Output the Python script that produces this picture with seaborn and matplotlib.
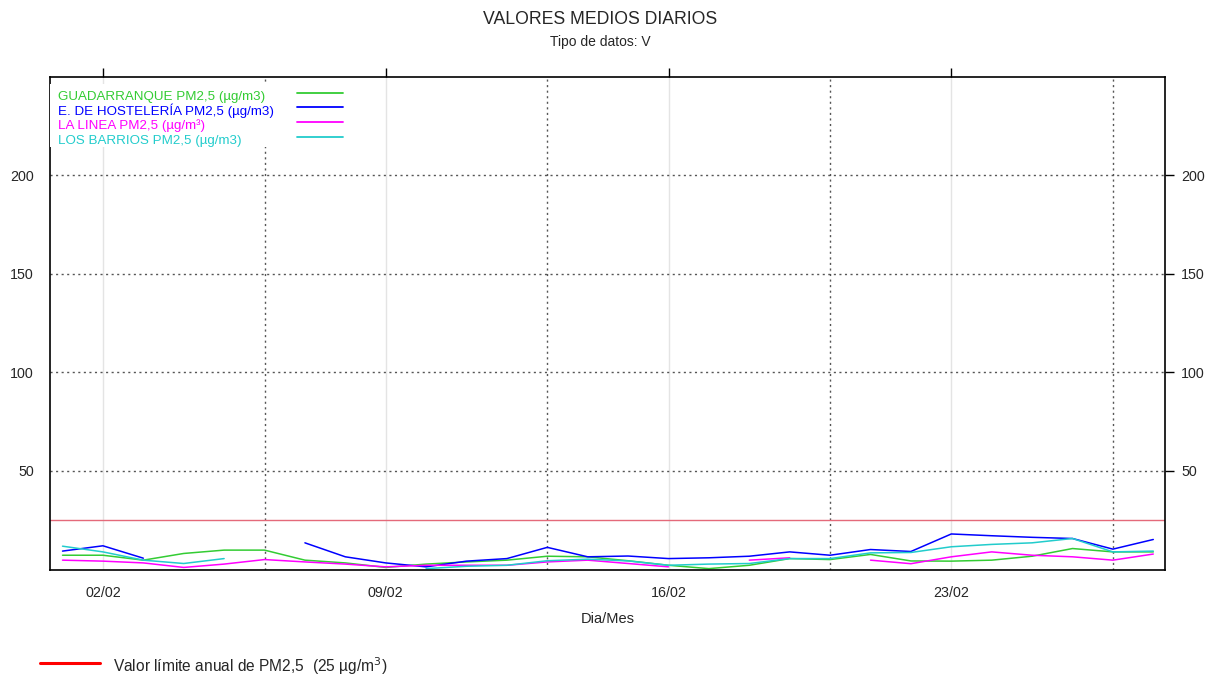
import numpy as np
import pandas as pd
import seaborn as sns
import matplotlib
matplotlib.use("Agg")
import matplotlib.pyplot as plt
from matplotlib.lines import Line2D
from matplotlib.patches import Rectangle

# dias de febrero
dias = list(range(1, 29))
nan = np.nan

guadarranque = [7.1, 7.1, 4.6, 8.0, 9.7, 9.7, 4.6, 3.2, 0.9, 2.6, 3.7, 4.6, 6.6, 6.3,
                4.3, 2.0, 0.3, 2.0, 5.4, 4.9, 7.5, 4.2, 4.1, 4.6, 6.6, 10.5, 8.8, 8.8]
hosteleria = [9.2, 11.9, 5.6, nan, nan, nan, 13.4, 6.3, 3.2, 1.2, 4.1, 5.4, 11.1, 6.3,
              6.7, 5.4, 5.8, 6.6, 8.8, 7.1, 10.0, 9.0, 17.9, 17.0, 16.2, 15.6, 10.2, 15.1]
la_linea = [4.6, 4.1, 3.2, 0.9, 2.6, 4.9, 3.7, 2.6, 1.2, 2.0, 2.0, 2.0, 3.7, 4.6,
            2.9, 1.2, nan, 4.6, 5.8, nan, 4.6, 2.8, 6.3, 8.8, 7.1, 6.3, 4.6, 7.7]
los_barrios = [11.7, 8.8, 4.6, 2.9, 5.4, nan, nan, nan, nan, 0.3, 1.5, 2.0, 4.3, 5.1,
               4.2, 2.0, 2.6, 2.9, 5.4, 5.4, 8.3, 8.5, 11.4, 12.6, 13.4, 15.6, 8.8, 9.2]

estaciones = ["GUADARRANQUE PM2,5 (µg/m3)", "E. DE HOSTELERÍA PM2,5 (µg/m3)",
              "LA LINEA PM2,5 (µg/m³)", "LOS BARRIOS PM2,5 (µg/m3)"]
series = [guadarranque, hosteleria, la_linea, los_barrios]
colores = ["#33cc33", "#0000ff", "#ff00ff", "#22cccc"]

ticks_dias = [2, 9, 16, 23]
ticks_labels = ["02/02", "09/02", "16/02", "23/02"]
semanas = [6, 13, 20, 27]
y_ticks = [50, 100, 150, 200]
limite = 25

# tabla larga; los huecos separan tramos para no unir puntos sin dato
frames = []
for nombre, vals in zip(estaciones, series):
    d = pd.DataFrame({"dia": dias, "valor": vals})
    d["tramo"] = nombre + "_" + d["valor"].isna().cumsum().astype(str)
    d["estacion"] = nombre
    frames.append(d.dropna())
df = pd.concat(frames, ignore_index=True)

sns.set_style("white")
plt.rcParams["font.family"] = ["Liberation Sans", "DejaVu Sans"]

W, H = 1207, 679
fig = plt.figure(figsize=(W / 100, H / 100), dpi=100)
# ejes: x 50..1165 px, y 77..570 px
ax = fig.add_axes([50 / W, 1 - 570 / H, 1115 / W, 493 / H])

for d in ticks_dias:
    ax.axvline(d, color="#e4e4e4", lw=1.0, zorder=0)
for d in semanas:
    ax.axvline(d, color="#555555", lw=1.0, ls=(0, (1.5, 2.5)), zorder=0)
for v in y_ticks:
    ax.axhline(v, color="#555555", lw=1.0, ls=(0, (1.5, 2.5)), zorder=0)

ax.axhline(limite, color="#e46a7a", lw=1.0, zorder=1)

sns.lineplot(data=df, x="dia", y="valor", hue="estacion", units="tramo",
             estimator=None, palette=dict(zip(estaciones, colores)),
             hue_order=estaciones, lw=1.1, legend=False, ax=ax, zorder=2)

ax.set_xlim(0.69, 28.29)
ax.set_ylim(-0.4, 250)
ax.set_xticks(ticks_dias)
ax.set_xticklabels(ticks_labels)
ax.set_yticks(y_ticks)
ax.tick_params(axis="both", direction="out", length=6.5, width=1.0, color="black",
               labelsize=10.3, top=True, right=True, labelright=True, pad=5)
for s in ax.spines.values():
    s.set_color("black")
    s.set_linewidth(1.2)
ax.set_xlabel("Dia/Mes", fontsize=10.5, labelpad=9)
ax.set_ylabel("")

# leyenda interior: fondo blanco, texto a la izquierda y muestra de línea a la derecha
def px(x, y):
    return ((x - 50) / 1115, (570 - y) / 493)

x0, y0 = px(50, 147)
x1, y1 = px(350, 84)
ax.add_patch(Rectangle((x0, y0), x1 - x0, y1 - y0, transform=ax.transAxes,
                       facecolor="white", edgecolor="none", zorder=3))
filas = [97, 111, 126, 141]
for nombre, c, yy in zip(estaciones, colores, filas):
    tx, ty = px(58, yy)
    ax.text(tx, ty, nombre, color=c, fontsize=9.6, ha="left", va="center",
            transform=ax.transAxes, zorder=4)
    lx0, ly = px(297, yy - 4)
    lx1, _ = px(343, yy - 4)
    ax.add_line(Line2D([lx0, lx1], [ly, ly], color=c, lw=1.3,
                       transform=ax.transAxes, zorder=4))

fig.text(0.497, 1 - 20 / H, "VALORES MEDIOS DIARIOS", ha="center", va="center",
         fontsize=12.7)
fig.text(0.497, 1 - 42 / H, "Tipo de datos: V", ha="center", va="center",
         fontsize=10)

fig.add_artist(Line2D([40 / W, 100 / W], [1 - 663 / H, 1 - 663 / H],
                      color="red", lw=2.2))
fig.text(113 / W, 1 - 666 / H, "Valor límite anual de PM2,5  (25 µg/m$^3$)",
         ha="left", va="center", fontsize=11.2)

fig.savefig("out.png", dpi=100)
